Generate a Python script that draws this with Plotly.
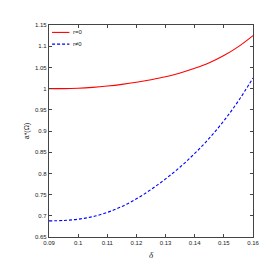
import plotly.graph_objects as go

delta = [0.09, 0.095, 0.10, 0.105, 0.11, 0.115, 0.12, 0.125, 0.13, 0.135, 0.14, 0.145, 0.15, 0.155, 0.16]
a_r0 = [1.000, 1.000, 1.001, 1.003, 1.006, 1.010, 1.015, 1.021, 1.028, 1.037, 1.048, 1.061, 1.078, 1.099, 1.125]
a_rn0 = [0.688, 0.689, 0.692, 0.698, 0.708, 0.722, 0.740, 0.762, 0.787, 0.815, 0.847, 0.883, 0.924, 0.971, 1.025]
series_names = ["r=0", "r≠0"]
series_colors = ["#ff0000", "#0000ff"]
series_dash = ["solid", "3px,2px"]
x_ticks = [0.09, 0.10, 0.11, 0.12, 0.13, 0.14, 0.15, 0.16]
x_ticktext = ["0.09", "0.1", "0.11", "0.12", "0.13", "0.14", "0.15", "0.16"]
y_ticks = [0.65, 0.70, 0.75, 0.80, 0.85, 0.90, 0.95, 1.00, 1.05, 1.10, 1.15]
y_ticktext = ["0.65", "0.7", "0.75", "0.8", "0.85", "0.9", "0.95", "1", "1.05", "1.1", "1.15"]

fig = go.Figure()
for ys, name, col, dash in zip([a_r0, a_rn0], series_names, series_colors, series_dash):
    fig.add_trace(go.Scatter(x=delta, y=ys, mode="lines", name=name, showlegend=False,
                             line=dict(color=col, width=1.1, dash=dash, shape="spline", smoothing=1.0)))

# manual compact legend (MATLAB style)
for i, (name, col, dash) in enumerate(zip(series_names, series_colors, series_dash)):
    yp = 0.965 - i * 0.055
    fig.add_shape(type="line", xref="paper", yref="paper", x0=0.015, x1=0.10, y0=yp, y1=yp,
                  line=dict(color=col, width=1.1, dash=dash))
    fig.add_annotation(xref="paper", yref="paper", x=0.108, y=yp, text=name, showarrow=False,
                       xanchor="left", yanchor="middle",
                       font=dict(family="Liberation Sans", size=6, color="#222222"))

axis_common = dict(showgrid=False, zeroline=False, showline=True, linecolor="#444444",
                   linewidth=1.2, mirror="ticks", ticks="inside", ticklen=3,
                   tickcolor="#444444", tickfont=dict(family="Liberation Sans", size=6, color="#222222"))

fig.update_xaxes(range=[0.09, 0.16], tickvals=x_ticks, ticktext=x_ticktext,
                 title=dict(text="<i>δ</i>", font=dict(family="Liberation Serif", size=9, color="#222222"), standoff=6),
                 **axis_common)
fig.update_yaxes(range=[0.65, 1.15], tickvals=y_ticks, ticktext=y_ticktext,
                 title=dict(text="a*(Ω)", font=dict(family="Liberation Sans", size=7, color="#222222"), standoff=4),
                 **axis_common)

fig.update_layout(
    width=270, height=267,
    margin=dict(l=41, r=25, t=17, b=38),
    plot_bgcolor="white", paper_bgcolor="white",
)

fig.write_html("out.html")
